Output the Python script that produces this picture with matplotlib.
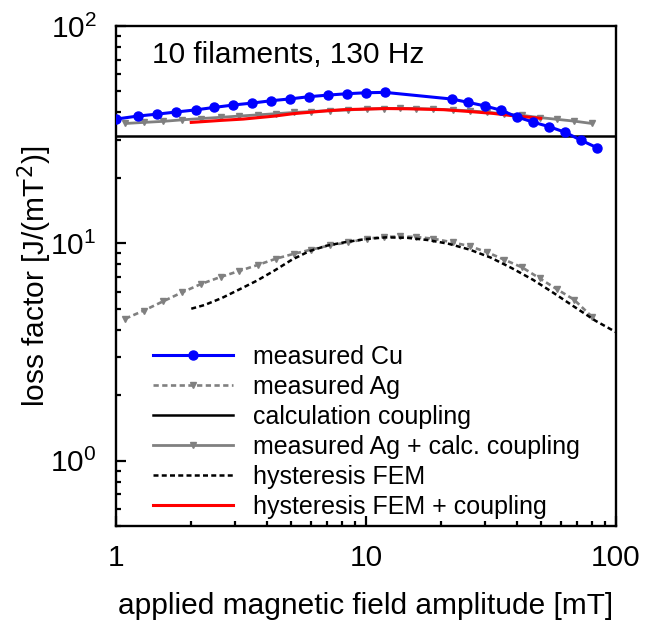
import matplotlib
matplotlib.use('Agg')
import matplotlib.pyplot as plt

matplotlib.rcParams.update({'font.size': 21.5, 'font.family': 'Liberation Sans'})

# measured Cu
cu_x = [1.0, 1.22, 1.46, 1.74, 2.08, 2.47, 2.95, 3.51, 4.18, 4.98, 5.93, 7.07, 8.42, 10.0, 11.9,
        22.1, 25.7, 29.8, 34.6, 40.1, 46.6, 54.1, 62.7, 72.4, 84.2]
cu_y = [37.3, 38.5, 39.3, 40.2, 41.1, 42.2, 43.3, 44.2, 45.3, 46.2, 47.3, 48.1, 48.8, 49.3, 49.5,
        46.1, 44.5, 42.9, 41.0, 38.2, 36.1, 34.4, 32.4, 29.8, 27.5]

# measured Ag, and measured Ag + calc. coupling
ag_x = [1.09, 1.29, 1.54, 1.84, 2.19, 2.62, 3.10, 3.69, 4.37, 5.15, 6.03, 7.2, 8.5, 10.1, 11.8,
        13.7, 15.8, 18.6, 22.2, 26.0, 30.5, 35.8, 42.1, 49.5, 58.0, 68.0, 80.0]
ag_y = [4.5, 4.9, 5.4, 5.95, 6.5, 7.0, 7.45, 7.95, 8.5, 8.95, 9.35, 9.8, 10.1, 10.5, 10.7,
        10.75, 10.7, 10.5, 10.1, 9.7, 9.1, 8.4, 7.75, 6.9, 6.15, 5.5, 4.6]
agc_y = [35.6, 36.0, 36.4, 37.0, 37.5, 38.0, 38.5, 39.0, 39.5, 40.0, 40.4, 40.8, 41.1, 41.5, 41.7,
         41.8, 41.7, 41.5, 41.1, 40.7, 40.1, 39.4, 38.8, 37.9, 37.2, 36.5, 35.6]

# calculation coupling
coup_x = [1, 100]
coup_y = [31.1, 31.1]

# hysteresis FEM
fem_x = [2.0, 2.26, 2.65, 3.12, 3.66, 4.31, 5.05, 5.93, 6.96, 8.17, 9.9, 12.0, 14.6, 17.7, 21.4,
         26.0, 31.5, 38.2, 46.5, 56.4, 68.2, 82.8, 100]
fem_y = [5.0, 5.2, 5.6, 6.14, 6.73, 7.5, 8.4, 9.2, 9.75, 10.1, 10.45, 10.65, 10.6, 10.35, 9.95,
         9.35, 8.6, 7.7, 6.8, 5.9, 5.1, 4.4, 3.9]

# hysteresis FEM + coupling
red_x = [2.0, 2.65, 3.23, 4.31, 5.12, 6.96, 8.1, 12.0, 14.6, 20.4, 26.0, 32.3, 38.2, 46.5, 50]
red_y = [36.0, 36.8, 37.3, 38.5, 39.5, 40.7, 41.2, 41.7, 41.6, 41.2, 40.4, 39.6, 38.7, 37.9, 37.6]

fig = plt.figure(figsize=(6.47, 6.22), dpi=100)
ax = fig.add_axes([0.1793, 0.1543, 0.7728, 0.8039])

ax.plot(cu_x, cu_y, color='#0000ff', linewidth=2.2, marker='o', markersize=6.5,
        label='measured Cu', zorder=5)
ax.plot(ag_x, ag_y, color='#808080', linewidth=1.9, linestyle=(0, (2.0, 1.3)), marker='v',
        markersize=5, label='measured Ag', zorder=3)
ax.plot(coup_x, coup_y, color='black', linewidth=1.8, label='calculation coupling', zorder=2)
ax.plot(ag_x, agc_y, color='#808080', linewidth=2.0, marker='v', markersize=5,
        label='measured Ag + calc. coupling', zorder=3)
ax.plot(fem_x, fem_y, color='black', linewidth=1.8, linestyle=(0, (2.0, 1.3)),
        label='hysteresis FEM', zorder=4)
ax.plot(red_x, red_y, color='#ff0000', linewidth=2.2, label='hysteresis FEM + coupling', zorder=4)

ax.set_xscale('log')
ax.set_yscale('log')
ax.set_xlim(1, 100)
ax.set_ylim(0.5, 100)
ax.set_xticks([1, 10, 100])
ax.set_xticklabels(['1', '10', '100'])

for s in ax.spines.values():
    s.set_linewidth(1.7)
ax.tick_params(which='both', direction='in', top=False, right=False, width=1.6)
ax.tick_params(which='major', length=7, pad=13)
ax.tick_params(which='minor', length=3.5)
ax.tick_params(axis='y', which='major', pad=14)

ax.set_xlabel('applied magnetic field amplitude [mT]', labelpad=14)
ax.set_ylabel('loss factor [J/(mT$^2$)]', labelpad=-3)

ax.text(0.072, 0.942, '10 filaments, 130 Hz', transform=ax.transAxes, va='center', ha='left')

ax.legend(loc='lower left', bbox_to_anchor=(0.064, 0.004), frameon=False, fontsize=18,
          handlelength=3.2, handletextpad=0.8, labelspacing=0.24, borderaxespad=0.0,
          borderpad=0.2)

plt.savefig('out.png', dpi=100)
